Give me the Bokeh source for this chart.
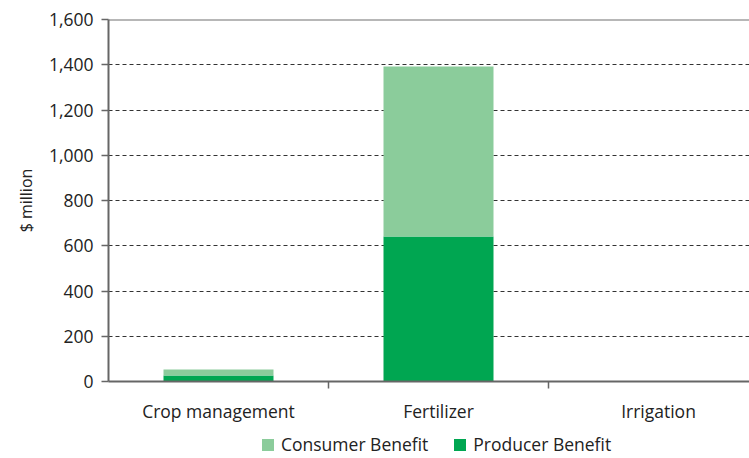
from bokeh.plotting import figure
from bokeh.layouts import column
from bokeh.models import ColumnDataSource, FixedTicker, Legend, LegendItem, Span, Range1d, NumeralTickFormatter
from bokeh.embed import file_html
from bokeh.resources import INLINE

categories = ["Crop management", "Fertilizer", "Irrigation"]
producer = [27, 641, 0]
consumer = [26, 751, 0]
y_ticks = [0, 200, 400, 600, 800, 1000, 1200, 1400, 1600]
series_names = ["Consumer Benefit", "Producer Benefit"]
series_fields = ["consumer", "producer"]
series_colors = ["#8BCC9B", "#00A651"]

xpos = [i + 0.5 for i in range(len(categories))]
src = ColumnDataSource(dict(x=xpos, producer=producer, consumer=consumer))

FONT = "Open Sans"
FS = "17.5px"
p = figure(width=749, height=430, output_backend="svg", toolbar_location=None,
           x_range=Range1d(0, 2.9136), y_range=Range1d(0, 1600),
           min_border_left=108, min_border_right=0, min_border_top=19, min_border_bottom=49)
p.outline_line_color = None
p.background_fill_color = "white"

r = p.vbar_stack(["producer", "consumer"], x="x", width=0.5, source=src,
                 color=[series_colors[1], series_colors[0]], line_color=None)

# grid
p.xgrid.grid_line_color = None
p.ygrid.ticker = FixedTicker(ticks=y_ticks[1:-1])
p.ygrid.grid_line_color = "#333333"
p.ygrid.grid_line_dash = "4 3"
p.ygrid.grid_line_width = 1
p.add_layout(Span(location=1600, dimension="width", line_color="#707070", line_width=2))

# y axis
p.yaxis.ticker = FixedTicker(ticks=y_ticks)
p.yaxis.formatter = NumeralTickFormatter(format="0,0")
p.yaxis.axis_label = "$ million"
p.yaxis.axis_label_text_font = FONT
p.yaxis.axis_label_text_font_style = "normal"
p.yaxis.axis_label_text_font_size = "16px"
p.yaxis.axis_label_text_color = "#222222"
p.yaxis.axis_label_standoff = 9
p.yaxis.major_label_text_font = FONT
p.yaxis.major_label_text_font_size = FS
p.yaxis.major_label_text_color = "#222222"
p.yaxis.axis_line_color = "#666666"
p.yaxis.axis_line_width = 2
p.yaxis.major_tick_line_color = "#666666"
p.yaxis.major_tick_line_width = 1.5
p.yaxis.major_tick_out = 7
p.yaxis.major_tick_in = 0
p.yaxis.minor_tick_line_color = None
p.yaxis.major_label_standoff = 8

# x axis
p.xaxis.ticker = FixedTicker(ticks=xpos, minor_ticks=[1, 2])
p.xaxis.major_label_overrides = {x: c for x, c in zip(xpos, categories)}
p.xaxis.major_label_text_font = FONT
p.xaxis.major_label_text_font_size = FS
p.xaxis.major_label_text_color = "#222222"
p.xaxis.axis_line_color = "#666666"
p.xaxis.axis_line_width = 2
p.xaxis.major_tick_line_color = None
p.xaxis.minor_tick_line_color = "#666666"
p.xaxis.minor_tick_line_width = 1.5
p.xaxis.minor_tick_out = 7
p.xaxis.minor_tick_in = 0
p.xaxis.major_label_standoff = 10

# legend figure (its glyphs lie outside its visible range; only the legend shows)
pl = figure(width=749, height=28, output_backend="svg", toolbar_location=None,
            x_range=Range1d(-20, -19), y_range=Range1d(-20, -19),
            min_border_left=0, min_border_right=0, min_border_top=0, min_border_bottom=0)
pl.axis.visible = False
pl.grid.grid_line_color = None
pl.outline_line_color = None
items = []
for name, field, col in zip(series_names, series_fields, series_colors):
    rr = pl.vbar(x="x", top=field, width=0.5, source=src, color=col, line_color=None)
    items.append(LegendItem(label=name, renderers=[rr]))
legend = Legend(items=items, orientation="horizontal", location=(152, 2),
                label_text_font=FONT, label_text_font_size=FS, label_text_color="#222222",
                label_text_font_style="normal",
                glyph_width=15, glyph_height=15, spacing=24, label_standoff=6,
                border_line_color=None, background_fill_alpha=0, margin=0, padding=0)
pl.add_layout(legend, "center")

layout = column(p, pl, spacing=0)
open("out.html", "w").write(file_html(layout, INLINE))
